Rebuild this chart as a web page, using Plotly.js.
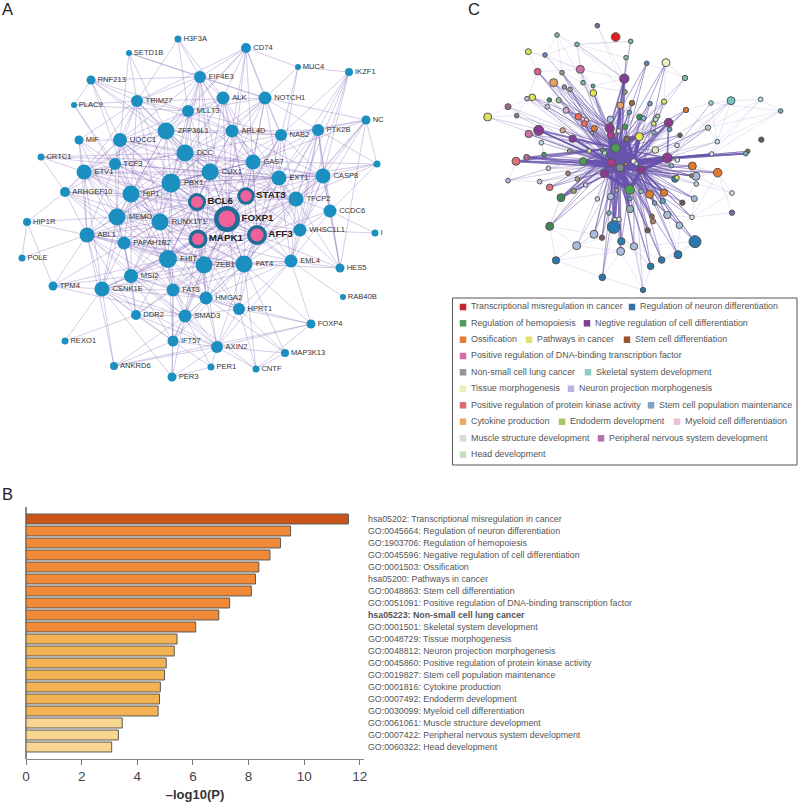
<!DOCTYPE html>
<html><head><meta charset="utf-8">
<script src="https://cdn.plot.ly/plotly-3.0.1.min.js"></script>
<style>html,body{margin:0;padding:0;background:#fff}#g{width:798px;height:803px}</style>
</head><body><div id="g"></div>
<script>
/* ---------- Panel B : enrichment bars ---------- */
const termLabels = [
"hsa05202: Transcriptional misregulation in cancer","GO:0045664: Regulation of neuron differentiation",
"GO:1903706: Regulation of hemopoiesis","GO:0045596: Negative regulation of cell differentiation",
"GO:0001503: Ossification","hsa05200: Pathways in cancer","GO:0048863: Stem cell differentiation",
"GO:0051091: Positive regulation of DNA-binding transcription factor","<b>hsa05223: Non-small cell lung cancer</b>",
"GO:0001501: Skeletal system development","GO:0048729: Tissue morphogenesis","GO:0048812: Neuron projection morphogenesis",
"GO:0045860: Positive regulation of protein kinase activity","GO:0019827: Stem cell population maintenance",
"GO:0001816: Cytokine production","GO:0007492: Endoderm development","GO:0030099: Myeloid cell differentiation",
"GO:0061061: Muscle structure development","GO:0007422: Peripheral nervous system development","GO:0060322: Head development"];
const termValues = [11.59,9.51,9.15,8.77,8.37,8.25,8.10,7.32,6.93,6.10,5.43,5.33,5.04,4.98,4.83,4.80,4.75,3.46,3.32,3.08];
const termColors = ["#cb5418","#f18a37","#f18a37","#f18a37","#f18a37","#f18a37","#f18a37","#f18a37","#f18a37","#f18a37",
"#f3b352","#f3b352","#f3b352","#f3b352","#f3b352","#f3b352","#f3b352","#f8d68f","#f8d68f","#f8d68f"];

/* ---------- Panel A : gene network ---------- */
const geneNames = ["H3F3A","SETD1B","CD74","MUC4","IKZF1","EIF4E3","RNF213","PLAC9","TRIM27","ALK","NOTCH1","MLLT3","NC","ZFP36L1","ARL4D","NAB2","PTK2B","MIF","UQCC1","DCC","CRTC1","TCF3","GAS7","X1","ETV1","CUX1","EXT1","CASP8","PBX1","ARHGEF10","HIP1","TFCP2","CCDC6","MEMO","RUNX1T1","HIP1R","ABL1","PAFAH1B2","WHSC1L1","X2","POLE","FHIT","ZEB1","FAT4","EML4","HES5","MSI2","TPM4","CSNK1E","FAT3","HMGA2","RAB40B","HPRT1","DDR2","SMAD3","FOXP4","REXO1","IFT57","AXIN2","MAP3K13","ANKRD6","PER1","CNTF","PER3"];
const geneLabels = geneNames.map(n => n==="X1" ? "" : n==="X2" ? "I" : n);
const geneX = [178,129,246,298,349,200,91,74,137,223,265,188,366,166,232,281,318,79,120,185,41,115,253,377,84,210,279,323,171,65,131,296,330,117,160,27,87,124,300,375,22,168,204,244,291,340,131,53,102,173,206,343,239,136,185,311,65,173,217,285,114,211,256,172];
const geneY = [39,53,48,67,72,77,80,105,101,98,98,111,120,131,131,135,130,140,140,153,157,164,162,164,172,172,178,176,183,192,194,199,211,217,222,222,235,243,230,233,258,259,265,264,261,268,276,286,289,290,298,297,309,315,316,324,341,341,347,353,366,367,369,377];
const geneSize = [7,6,10,6,8,12,9,6,12,13,13,12,9,17,13,12,12,9,14,17,7,12,15,7,15,17,15,15,19,10,17,15,13,17,17,8,15,13,13,7,7,18,17,17,13,9,14,9,15,13,13,6,12,10,13,9,7,11,12,8,8,7,7,9];
const coreNames = ["STAT3","BCL6","FOXP1","MAPK1","AFF3"];
const coreX = [246,197,227,198,257];
const coreY = [196,202,219,239,235];
const coreSize = [14.5,15,21.5,15.5,16.5];
const coreRing = [3,3,4.5,3.5,3.5];
const geneLinks = [
["H3F3A","TRIM27 MLLT3 EIF4E3 ALK"],["SETD1B","TRIM27 UQCC1 EIF4E3 NOTCH1 ZFP36L1"],
["CD74","EIF4E3 TRIM27 ALK NOTCH1 ARL4D NAB2 ZFP36L1 FOXP1 AFF3 MLLT3"],["MUC4","CD74 IKZF1 NOTCH1 EXT1 NAB2"],
["IKZF1","CASP8 TFCP2 PTK2B NAB2 EXT1 WHSC1L1"],["EIF4E3","RNF213 TRIM27 MLLT3 ALK ZFP36L1 DCC ARL4D NOTCH1 GAS7 CUX1 PBX1 UQCC1 FOXP1 BCL6"],
["RNF213","TRIM27 PLAC9 MLLT3 UQCC1 HIP1 ZFP36L1 DCC"],["PLAC9","TRIM27 MLLT3 HIP1 TCF3"],
["TRIM27","MLLT3 UQCC1 ZFP36L1 DCC TCF3 ETV1 HIP1 PBX1 ARL4D NOTCH1 MIF RUNX1T1 CUX1"],
["ALK","MLLT3 ARL4D ZFP36L1 DCC CUX1 GAS7 EXT1 FOXP1 STAT3 PBX1"],
["NOTCH1","ARL4D GAS7 NAB2 MLLT3 CUX1 DCC PBX1 STAT3 EXT1 PTK2B NC MAPK1"],
["MLLT3","ZFP36L1 ARL4D DCC UQCC1 CUX1 GAS7 NAB2 PBX1 BCL6 HIP1 ETV1"],
["NC","PTK2B NAB2 CASP8 TFCP2 X1 WHSC1L1 HES5 GAS7 FAT4"],
["ZFP36L1","ARL4D UQCC1 DCC CUX1 GAS7 NAB2 TCF3 HIP1 PBX1 ETV1 BCL6 STAT3 FOXP1 RUNX1T1 MEMO"],
["ARL4D","NAB2 PTK2B DCC CUX1 GAS7 EXT1 CASP8 PBX1 STAT3 FOXP1 TFCP2 FHIT"],
["NAB2","PTK2B GAS7 EXT1 CASP8 CUX1 DCC STAT3 TFCP2 AFF3 FOXP1 ZEB1"],
["PTK2B","CASP8 EXT1 GAS7 X1 TFCP2 CCDC6 HES5 WHSC1L1 AFF3 FAT4 EML4"],["MIF","UQCC1 ETV1 TCF3 HIP1 ABL1 MEMO"],
["UQCC1","DCC TCF3 ETV1 HIP1 PBX1 CUX1 BCL6 FOXP1 RUNX1T1 MEMO ARHGEF10 GAS7 MAPK1 FHIT"],
["DCC","TCF3 CUX1 GAS7 PBX1 EXT1 HIP1 ETV1 BCL6 STAT3 FOXP1 MEMO RUNX1T1 CASP8 MAPK1 TFCP2 AFF3"],
["CRTC1","TCF3 ETV1 DCC X1 ARHGEF10"],["TCF3","ETV1 HIP1 PBX1 CUX1 MEMO ABL1 RUNX1T1 BCL6 FOXP1 ARHGEF10 EXT1"],
["GAS7","CUX1 EXT1 CASP8 TFCP2 PBX1 STAT3 FOXP1 AFF3 BCL6 HIP1 MAPK1 WHSC1L1"],["X1","CASP8 TFCP2 EXT1 CCDC6"],
["ETV1","HIP1 PBX1 ARHGEF10 MEMO ABL1 RUNX1T1 CUX1 EXT1 BCL6 FOXP1 PAFAH1B2 MAPK1 CSNK1E FHIT"],
["CUX1","PBX1 EXT1 CASP8 STAT3 BCL6 FOXP1 MAPK1 AFF3 TFCP2 HIP1 MEMO RUNX1T1 FHIT ZEB1 FAT4"],
["EXT1","CASP8 TFCP2 STAT3 FOXP1 AFF3 PBX1 WHSC1L1 BCL6 MAPK1 FAT4 ZEB1 HIP1 EML4"],
["CASP8","TFCP2 CCDC6 WHSC1L1 STAT3 FOXP1 AFF3 EML4 PBX1 FAT4 HES5"],
["PBX1","HIP1 STAT3 BCL6 FOXP1 MEMO RUNX1T1 MAPK1 AFF3 TFCP2 ABL1 PAFAH1B2 FHIT ZEB1 FAT4 MSI2 FAT3"],
["ARHGEF10","HIP1 MEMO ABL1 HIP1R RUNX1T1 FHIT BCL6 PAFAH1B2"],
["HIP1","MEMO RUNX1T1 BCL6 FOXP1 MAPK1 ABL1 PAFAH1B2 FHIT ZEB1 MSI2 CSNK1E AFF3 FAT3"],
["STAT3","BCL6 FOXP1 TFCP2 AFF3 MAPK1 RUNX1T1 WHSC1L1 FAT4 ZEB1 FHIT EML4"],
["BCL6","FOXP1 MAPK1 AFF3 RUNX1T1 MEMO PAFAH1B2 FHIT ZEB1 FAT4 MSI2 ABL1 TFCP2 HMGA2"],
["TFCP2","CCDC6 WHSC1L1 FOXP1 AFF3 MAPK1 EML4 FAT4 ZEB1 HES5 FHIT"],["CCDC6","WHSC1L1 X2 HES5 EML4 AFF3"],
["MEMO","RUNX1T1 ABL1 PAFAH1B2 FHIT MAPK1 FOXP1 MSI2 CSNK1E HIP1R ZEB1"],
["RUNX1T1","FOXP1 MAPK1 PAFAH1B2 FHIT ZEB1 ABL1 AFF3 FAT4 MSI2 FAT3 HMGA2"],
["FOXP1","MAPK1 AFF3 WHSC1L1 FHIT ZEB1 FAT4 EML4 PAFAH1B2 MSI2 FAT3 HMGA2 HPRT1 SMAD3 ABL1"],
["HIP1R","ABL1 POLE TPM4"],["ABL1","PAFAH1B2 POLE TPM4 MSI2 CSNK1E FHIT ZEB1 MAPK1 FAT3 ANKRD6 DDR2 SMAD3 FAT4"],
["PAFAH1B2","MAPK1 FHIT ZEB1 MSI2 CSNK1E FAT3 TPM4 FAT4 HMGA2 DDR2"],
["MAPK1","AFF3 FHIT ZEB1 FAT4 MSI2 FAT3 HMGA2 SMAD3 HPRT1 EML4 WHSC1L1 CSNK1E"],
["AFF3","WHSC1L1 ZEB1 FAT4 EML4 FHIT HMGA2 FAT3 HPRT1 HES5 MSI2"],["WHSC1L1","EML4 FAT4 X2 HES5 ZEB1"],
["FHIT","ZEB1 FAT4 MSI2 CSNK1E FAT3 HMGA2 SMAD3 DDR2 HPRT1 TPM4 IFT57"],
["ZEB1","FAT4 MSI2 CSNK1E FAT3 HMGA2 SMAD3 HPRT1 EML4 AXIN2 IFT57 DDR2"],
["FAT4","EML4 FAT3 HMGA2 HPRT1 SMAD3 AXIN2 FOXP4 MAP3K13 CNTF IFT57 CSNK1E HES5"],
["EML4","HES5 FOXP4 RAB40B HMGA2 HPRT1 AXIN2 FAT3"],["MSI2","CSNK1E FAT3 DDR2 SMAD3 TPM4 HMGA2 IFT57 AXIN2"],
["TPM4","CSNK1E SMAD3"],["CSNK1E","FAT3 DDR2 SMAD3 ANKRD6 REXO1 IFT57 AXIN2 HMGA2 PER3"],
["FAT3","HMGA2 SMAD3 DDR2 HPRT1 AXIN2 IFT57 PER3"],["HMGA2","HPRT1 SMAD3 AXIN2 IFT57 MAP3K13 FOXP4"],
["HPRT1","SMAD3 AXIN2 FOXP4 MAP3K13 CNTF"],["DDR2","SMAD3 IFT57 AXIN2 REXO1"],["SMAD3","IFT57 AXIN2 PER3 ANKRD6 PER1 CNTF"],
["FOXP4","AXIN2 CNTF ANKRD6"],["IFT57","AXIN2 PER1 PER3 ANKRD6"],["AXIN2","ANKRD6 PER1 PER3 CNTF MAP3K13"],["MAP3K13","CNTF"],["PER1","PER3"]];

/* ---------- Panel C : term network (nodes numbered from 1) ---------- */
const termX = [472,527,351,411,572,265,315,558,620,678,293,366,421,553,735,341,429,459,373,390,460,555,277,261,328,356,322,541,576,630,672,813,873,962,1022,738,204,143,230,378,415,439,568,599,611,653,647,641,511,433,463,686,509,555,536,689,804,296,368,266,456,513,561,598,642,720,398,304,832,964,711,527,646,389,448,488,494,923,917,815,260,312,228,429,682,712,514,581,589,694,757,833,325,384,493,540,558,604,412,204,299,768,705,711,754,769,329,437,401,530,569,603,629,672,363,472,512,570,763,876,644,668,727,876,570,507,682,636,756,525,537,639,329,521,718,623,462,486,544,765,410,582,542,348,714,665,632,487,609];
const termY = [77,111,105,133,124,155,165,173,190,188,215,218,208,236,234,248,248,258,261,268,279,276,292,296,300,301,320,316,309,311,305,309,302,298,333,330,320,351,347,331,350,360,337,351,355,349,358,371,358,371,385,368,385,380,393,388,383,391,391,402,399,405,417,410,398,406,416,428,425,419,436,444,450,453,453,451,459,454,461,462,472,464,484,484,474,480,488,484,491,497,498,518,505,520,521,503,492,510,537,542,545,529,537,533,527,552,562,555,573,571,569,574,583,578,593,597,590,596,596,579,609,603,608,638,627,639,645,649,652,660,658,664,679,681,676,691,703,713,724,725,737,739,754,781,764,780,799,832,870];
const termSize = [14,26,14,14,14,18,14,14,14,24,20,14,24,28,16,24,14,12,14,14,20,14,20,14,14,16,14,20,16,14,16,14,24,14,14,16,18,24,14,18,20,14,14,18,14,14,14,14,20,18,18,26,28,16,14,14,16,30,16,22,10,22,18,24,14,14,22,14,14,16,14,26,20,14,14,14,14,14,14,14,18,14,24,22,30,14,24,16,12,14,24,26,14,14,24,24,10,24,14,14,14,24,20,14,12,14,20,14,16,12,28,14,24,22,24,14,20,14,18,14,14,16,16,16,22,14,22,14,14,16,14,16,24,38,20,16,24,16,22,36,24,22,24,22,24,20,20,20,16];
const termColor = ["#7b6a9b","#e41a1c","#7fb8a0","#7fb8a0","#7fb8a0","#dce35b","#6f86b8","#8ab89a","#5a7fb5","#e8efc0","#e0617d","#9a9a8a","#cf6ea8","#7f3f98","#7fbfb0","#e8a060","#7fb89a","#5f9ba0","#8090b8","#a0a090","#e6e650","#a09080","#dce35b","#b6bde0","#3f9060","#90c890","#c0cce8","#e8a868","#a86a3a","#6aa0cc","#dce35b","#a0d0d0","#70c4c4","#b0e0e0","#70b8c4","#e07830","#a0688a","#dce35b","#8a7a9a","#d0a8d0","#ee6a5a","#e8c0c8","#5a9ac8","#2f9060","#7fb8d0","#a0d0a8","#c8e0c0","#d0e080","#b0c4e0","#ee6a5a","#e07830","#8a3a90","#8a3a90","#3f9a50","#e0f0e8","#6a9ac8","#b0d8b0","#8a3a90","#d8a080","#cc70a8","#b0b0b0","#b03a90","#8a6a50","#e6e650","#8ab0c0","#6a5a4a","#7f3f98","#c0d8e8","#c0e0e0","#5a5a5a","#d0ecf0","#4aa050","#e0ecc0","#a0a090","#c8e0a0","#4a9a70","#b0d8c8","#8a6a5a","#70b0c0","#d0e4ec","#b06a8a","#3f9a70","#e0707a","#4aa050","#8a3a90","#d0ecf0","#b03a90","#f0f0f0","#d0e0f0","#80b0c8","#e07830","#e07830","#c0c8e0","#a08070","#8a3a90","#7a8a8a","#e0707a","#8a3a90","#b09a70","#b0bce0","#c0c8e8","#a8bcdc","#2a80b8","#dce35b","#8a7a5a","#a8d8e0","#e0707a","#c8d0e8","#a0a070","#a0b8b8","#4aa050","#a8bcc8","#e07830","#e07830","#3f8a50","#c0d8e0","#a8bcdc","#6aa0c8","#a8bcdc","#d0ecdc","#70a8cc","#50a8cc","#6a5a5a","#7a6aa8","#8ab0b0","#70b0c0","#a8bcdc","#8a6a4a","#d0e8dc","#d0e0e0","#e0f0e8","#b08060","#3f8a50","#2a78b0","#a8bcdc","#6a5a5a","#a8bcdc","#7a5a5a","#2a80b0","#2a78b0","#a8bcdc","#a8bcdc","#a8bcdc","#2a78b0","#2a78b0","#2a78b0","#2a78b0","#2a78b0","#2a78b0"];
const termWeight = [0,0,0,1,2,0,1,2,2,2,2,2,1,3,1,2,1,1,2,2,2,2,2,1,1,2,1,3,2,2,2,1,1,0,0,2,1,1,1,2,2,1,2,2,1,1,1,1,3,2,2,3,3,2,2,1,2,3,2,2,1,3,2,3,2,2,3,1,1,0,1,3,2,2,2,2,2,2,3,3,3,2,3,3,3,1,3,2,1,2,2,2,1,1,3,3,2,3,2,1,1,2,2,2,2,1,2,1,2,2,3,2,3,3,3,1,2,2,2,0,2,2,2,0,3,2,2,2,2,2,2,2,2,3,2,2,2,2,2,2,1,2,2,0,2,2,2,2,1];
const termHub = ["","","","U","U","","T","U","GTS","GPS","GMS","GTM","GM","GTMS","GS","TGM","TS","GM","GTM","TGM","TGS","GUS","GTM","MG","GS","GTM","MG","TGS","TGS","GWS","GPS","R","RW","","","GWS","MG","MG","MG","TGM","GMS","GS","GTS","GWS","GS","WG","WG","WG","TGMS","GMS","GMS","GWRS","GMS","GWS","GS","WG","RW","GMS","GMS","GMS","GS","GMS","GSW","GWS","WG","WG","GMS","MS","RW","","WG","MSW","GWS","GMS","GMS","GMS","GMS","RW","RW","RW","MGS","MG","MGS","MGS","GWS","WS","GSW","SWP","SW","WS","WPS","WPS","MS","MS","MSG","GMW","SM","GSW","MSG","MG","MS","WPS","WPS","WPS","WPS","WS","MSG","SM","MSG","SG","SMG","SWG","SWG","SWP","MSG","SG","MSG","SWG","WPS","","SWP","SWP","SWP","","SMG","SG","SWP","SWG","WPS","SG","SG","SWG","MSG","GSM","WPS","SWG","SMG","SMG","SGW","WPS","SM","SWG","SGM","","WPS","SWG","SWG","SG","SW"];
const hubNode = {G:72,M:87,S:96,P:98,T:53,W:88,R:85,U:14};
const termCore = [[72,87],[72,96],[72,88],[72,53],[72,62],[72,63],[72,95],[72,98],[87,96],[87,88],[87,95],[87,62],[87,84],[87,98],[96,98],[96,88],[96,95],[96,111],[96,97],[96,63],[88,98],[88,63],[88,85],[88,64],[63,64],[63,87],[62,96],[62,88],[53,87],[53,96],[95,111],[98,111],[111,87],[85,96],[85,98],[76,96],[77,88],[84,96]];
const termFaint = [[1,14],[1,22],[3,4],[3,12],[3,14],[3,17],[3,7],[4,14],[4,17],[4,8],[4,5],[4,22],[5,4],[6,7],[6,11],[6,13],[7,13],[7,12],[7,4],[11,13],[12,16],[12,17],[13,17],[13,18],[13,14],[13,4],[17,18],[17,21],[18,14],[18,22],[19,20],[23,24],[23,37],[24,25],[24,11],[37,38],[37,39],[38,39],[39,24],[10,15],[10,31],[15,31],[15,9],[32,33],[33,34],[34,35],[32,35],[33,57],[34,57],[34,69],[35,69],[32,69],[33,69],[34,80],[35,80],[35,57],[36,32],[36,57],[57,69],[69,80],[32,71],[33,71],[57,71],[120,92],[120,102],[120,129],[120,106],[92,129],[124,92],[124,129],[119,129],[106,123],[127,129],[129,135],[135,140],[133,141],[133,144],[133,115],[133,137],[141,144],[144,137],[144,143],[144,148],[137,141],[141,143],[141,138],[143,148],[148,149],[143,149],[142,149],[147,149],[147,146],[146,145],[145,140],[146,142],[147,142],[139,147],[139,142],[139,143],[134,143],[134,147],[134,148],[140,142],[140,146],[135,145],[127,140],[127,145],[93,100],[100,101],[101,107],[107,115],[115,133],[93,68],[68,82],[60,68],[81,83],[83,100],[92,102],[91,102],[91,92],[86,91],[71,86]];

/* ---------- Panel C : legend ---------- */
const legendLabels = ["Transcriptional misregulation in cancer","Regulation of neuron differentiation","Regulation of hemopoiesis","Negtive regulation of cell differentiation","Ossification","Pathways in cancer","Stem cell differentiation","Positive regulation of DNA-binding transcription factor","Non-small cell lung cancer","Skeletal system development","Tissue morphogenesis","Neuron projection morphogenesis","Positive regulation of protein kinase activity","Stem cell population maintenance","Cytokine production","Endoderm development","Myeloid cell differentiation","Muscle structure development","Peripheral nervous system development","Head development"];
const legendColors = ["#c8252b","#3572a5","#4f9a58","#7c3f92","#e37f34","#e7df6b","#995434","#d26da7","#969696","#8ecfc4","#ebefb7","#b7b6dc","#d96a70","#7fa3c8","#eba968","#a8c46a","#f0bfd5","#d9d9d9","#ae72ae","#c3e0c0"];
const legendX = [463,632,463,587,463,529,627,463,463,588,463,571,463,651,463,562,677,463,601,463];
const legendRow = [307,307,323.3,323.3,339.7,339.7,339.7,356,372.3,372.3,388.7,388.7,405.3,405.3,421.7,421.7,421.7,438.3,438.3,454.7];

/* ---------- build ---------- */
const font = "Liberation Sans, Arial, sans-serif";
const gx={}, gy={};
geneNames.forEach((n,i)=>{gx[n]=geneX[i];gy[n]=geneY[i];});
coreNames.forEach((n,i)=>{gx[n]=coreX[i];gy[n]=coreY[i];});
const ax=[],ay=[];
geneLinks.forEach(([s,list])=>list.split(" ").forEach(t=>{
  if(gx[t]===undefined||gx[s]===undefined) return;
  ax.push(gx[s],gx[t],null); ay.push(gy[s],gy[t],null);
}));
const wx={1:[],2:[],3:[]}, wy={1:[],2:[],3:[]};
termWeight.forEach((w,i)=>{
  if(!w) return;
  termHub[i].split("").forEach(h=>{
    const j=hubNode[h]-1; if(j===i) return;
    wx[w].push(termX[i],termX[j],null); wy[w].push(termY[i],termY[j],null);
  });
});
const pairs=(list)=>{const x=[],y=[];list.forEach(([a,b])=>{x.push(termX[a-1],termX[b-1],null);y.push(termY[a-1],termY[b-1],null);});return [x,y];};
const [fx,fy]=pairs(termFaint), [kx,ky]=pairs(termCore);

const line=(x,y,c,w,xa,ya)=>({type:"scatter",mode:"lines",x,y,xaxis:xa,yaxis:ya,line:{color:c,width:w},hoverinfo:"skip",showlegend:false,cliponaxis:false});
const traces=[
 {type:"bar",orientation:"h",x:termValues,y:termLabels,width:0.83,marker:{color:termColors,line:{color:"#5a5a5a",width:1}},hoverinfo:"skip",showlegend:false},
 line(ax,ay,"rgba(125,95,180,0.36)",0.9,"x2","y2"),
 {type:"scatter",mode:"markers+text",x:geneX,y:geneY,text:geneLabels,textposition:"middle right",xaxis:"x2",yaxis:"y2",cliponaxis:false,
  marker:{size:geneSize,opacity:1,color:"#1a8fc0",line:{width:0}},textfont:{family:font,size:7.6,color:"#333"},hoverinfo:"skip",showlegend:false},
 {type:"scatter",mode:"markers+text",x:coreX,y:coreY,text:coreNames,textposition:"middle right",xaxis:"x2",yaxis:"y2",cliponaxis:false,
  marker:{size:coreSize,opacity:1,color:"#f0609a",line:{width:coreRing,color:"#1e6e9a"}},textfont:{family:font,size:9.8,color:"#222",weight:700},hoverinfo:"skip",showlegend:false},
 line(fx,fy,"rgba(150,140,205,0.2)",1,"x3","y3"),
 line(wx[1],wy[1],"rgba(105,85,170,0.4)",0.7,"x3","y3"),
 line(wx[2],wy[2],"rgba(105,85,170,0.55)",1,"x3","y3"),
 line(wx[3],wy[3],"rgba(100,80,170,0.75)",1.7,"x3","y3"),
 line(kx,ky,"rgb(104,84,172)",4,"x3","y3"),
 {type:"scatter",mode:"markers",x:termX,y:termY,xaxis:"x3",yaxis:"y3",cliponaxis:false,
  marker:{size:termSize.map(d=>d/3),opacity:1,color:termColor,line:{width:1,color:"#555"}},hoverinfo:"skip",showlegend:false},
 {type:"scatter",mode:"markers",x:legendX,y:legendRow,xaxis:"x4",yaxis:"y4",cliponaxis:false,
  marker:{symbol:"square",size:6.5,opacity:1,color:legendColors},hoverinfo:"skip",showlegend:false},
 {type:"scatter",mode:"text",x:legendX.map(v=>v+8),y:legendRow,text:legendLabels,textposition:"middle right",xaxis:"x4",yaxis:"y4",cliponaxis:false,
  textfont:{family:font,size:8.9,color:"#555"},hoverinfo:"skip",showlegend:false}
];
const hidden=(o)=>Object.assign({visible:false,fixedrange:true},o);
const W=798,H=803;
const layout={
 width:W,height:H,margin:{l:0,r:0,t:0,b:0},paper_bgcolor:"#fff",plot_bgcolor:"rgba(0,0,0,0)",showlegend:false,bargap:0.17,
 font:{family:font},
 xaxis:{domain:[26/W,364/W],range:[0,12.15],tick0:0,dtick:2,ticks:"outside",ticklen:5,tickcolor:"#777",showgrid:false,zeroline:true,zerolinecolor:"#888",zerolinewidth:1.5,
   showline:true,linecolor:"#888",linewidth:1,tickfont:{family:font,size:13.5,color:"#444"},
   title:{text:"<b>–log10(P)</b>",font:{family:font,size:13,color:"#333"},standoff:6},anchor:"y",fixedrange:true},
 yaxis:{domain:[(H-759)/H,(H-507)/H],type:"category",range:[20,-1],side:"right",anchor:"x",showgrid:false,zeroline:false,showline:false,ticks:"",ticklabelstandoff:3,
   tickfont:{family:font,size:8.8,color:"#555"},fixedrange:true},
 xaxis2:hidden({domain:[0,400/W],range:[0,400],anchor:"y2"}),
 yaxis2:hidden({domain:[1-405/H,1],range:[405,0],anchor:"x2"}),
 xaxis3:hidden({domain:[440/W,1],range:[0,1074],anchor:"y3"}),
 yaxis3:hidden({domain:[1-300/H,1],range:[900,0],anchor:"x3"}),
 xaxis4:hidden({domain:[440/W,1],range:[440,798],anchor:"y4"}),
 yaxis4:hidden({domain:[1-475/H,1-290/H],range:[475,290],anchor:"x4"}),
 shapes:[{type:"rect",xref:"x4",yref:"y4",x0:452.5,x1:797,y0:298,y1:465,line:{color:"#555",width:1},fillcolor:"rgba(0,0,0,0)"}],
 annotations:[["A",0,9],["B",0,494],["C",466,9]].map(([t,x,y])=>({text:t,xref:"paper",yref:"paper",x:x/W,y:1-y/H,xanchor:"left",yanchor:"middle",showarrow:false,font:{family:font,size:16.5,color:"#222"}}))
};
Plotly.newPlot("g",traces,layout,{staticPlot:true,displayModeBar:false});
</script>
</body></html>
